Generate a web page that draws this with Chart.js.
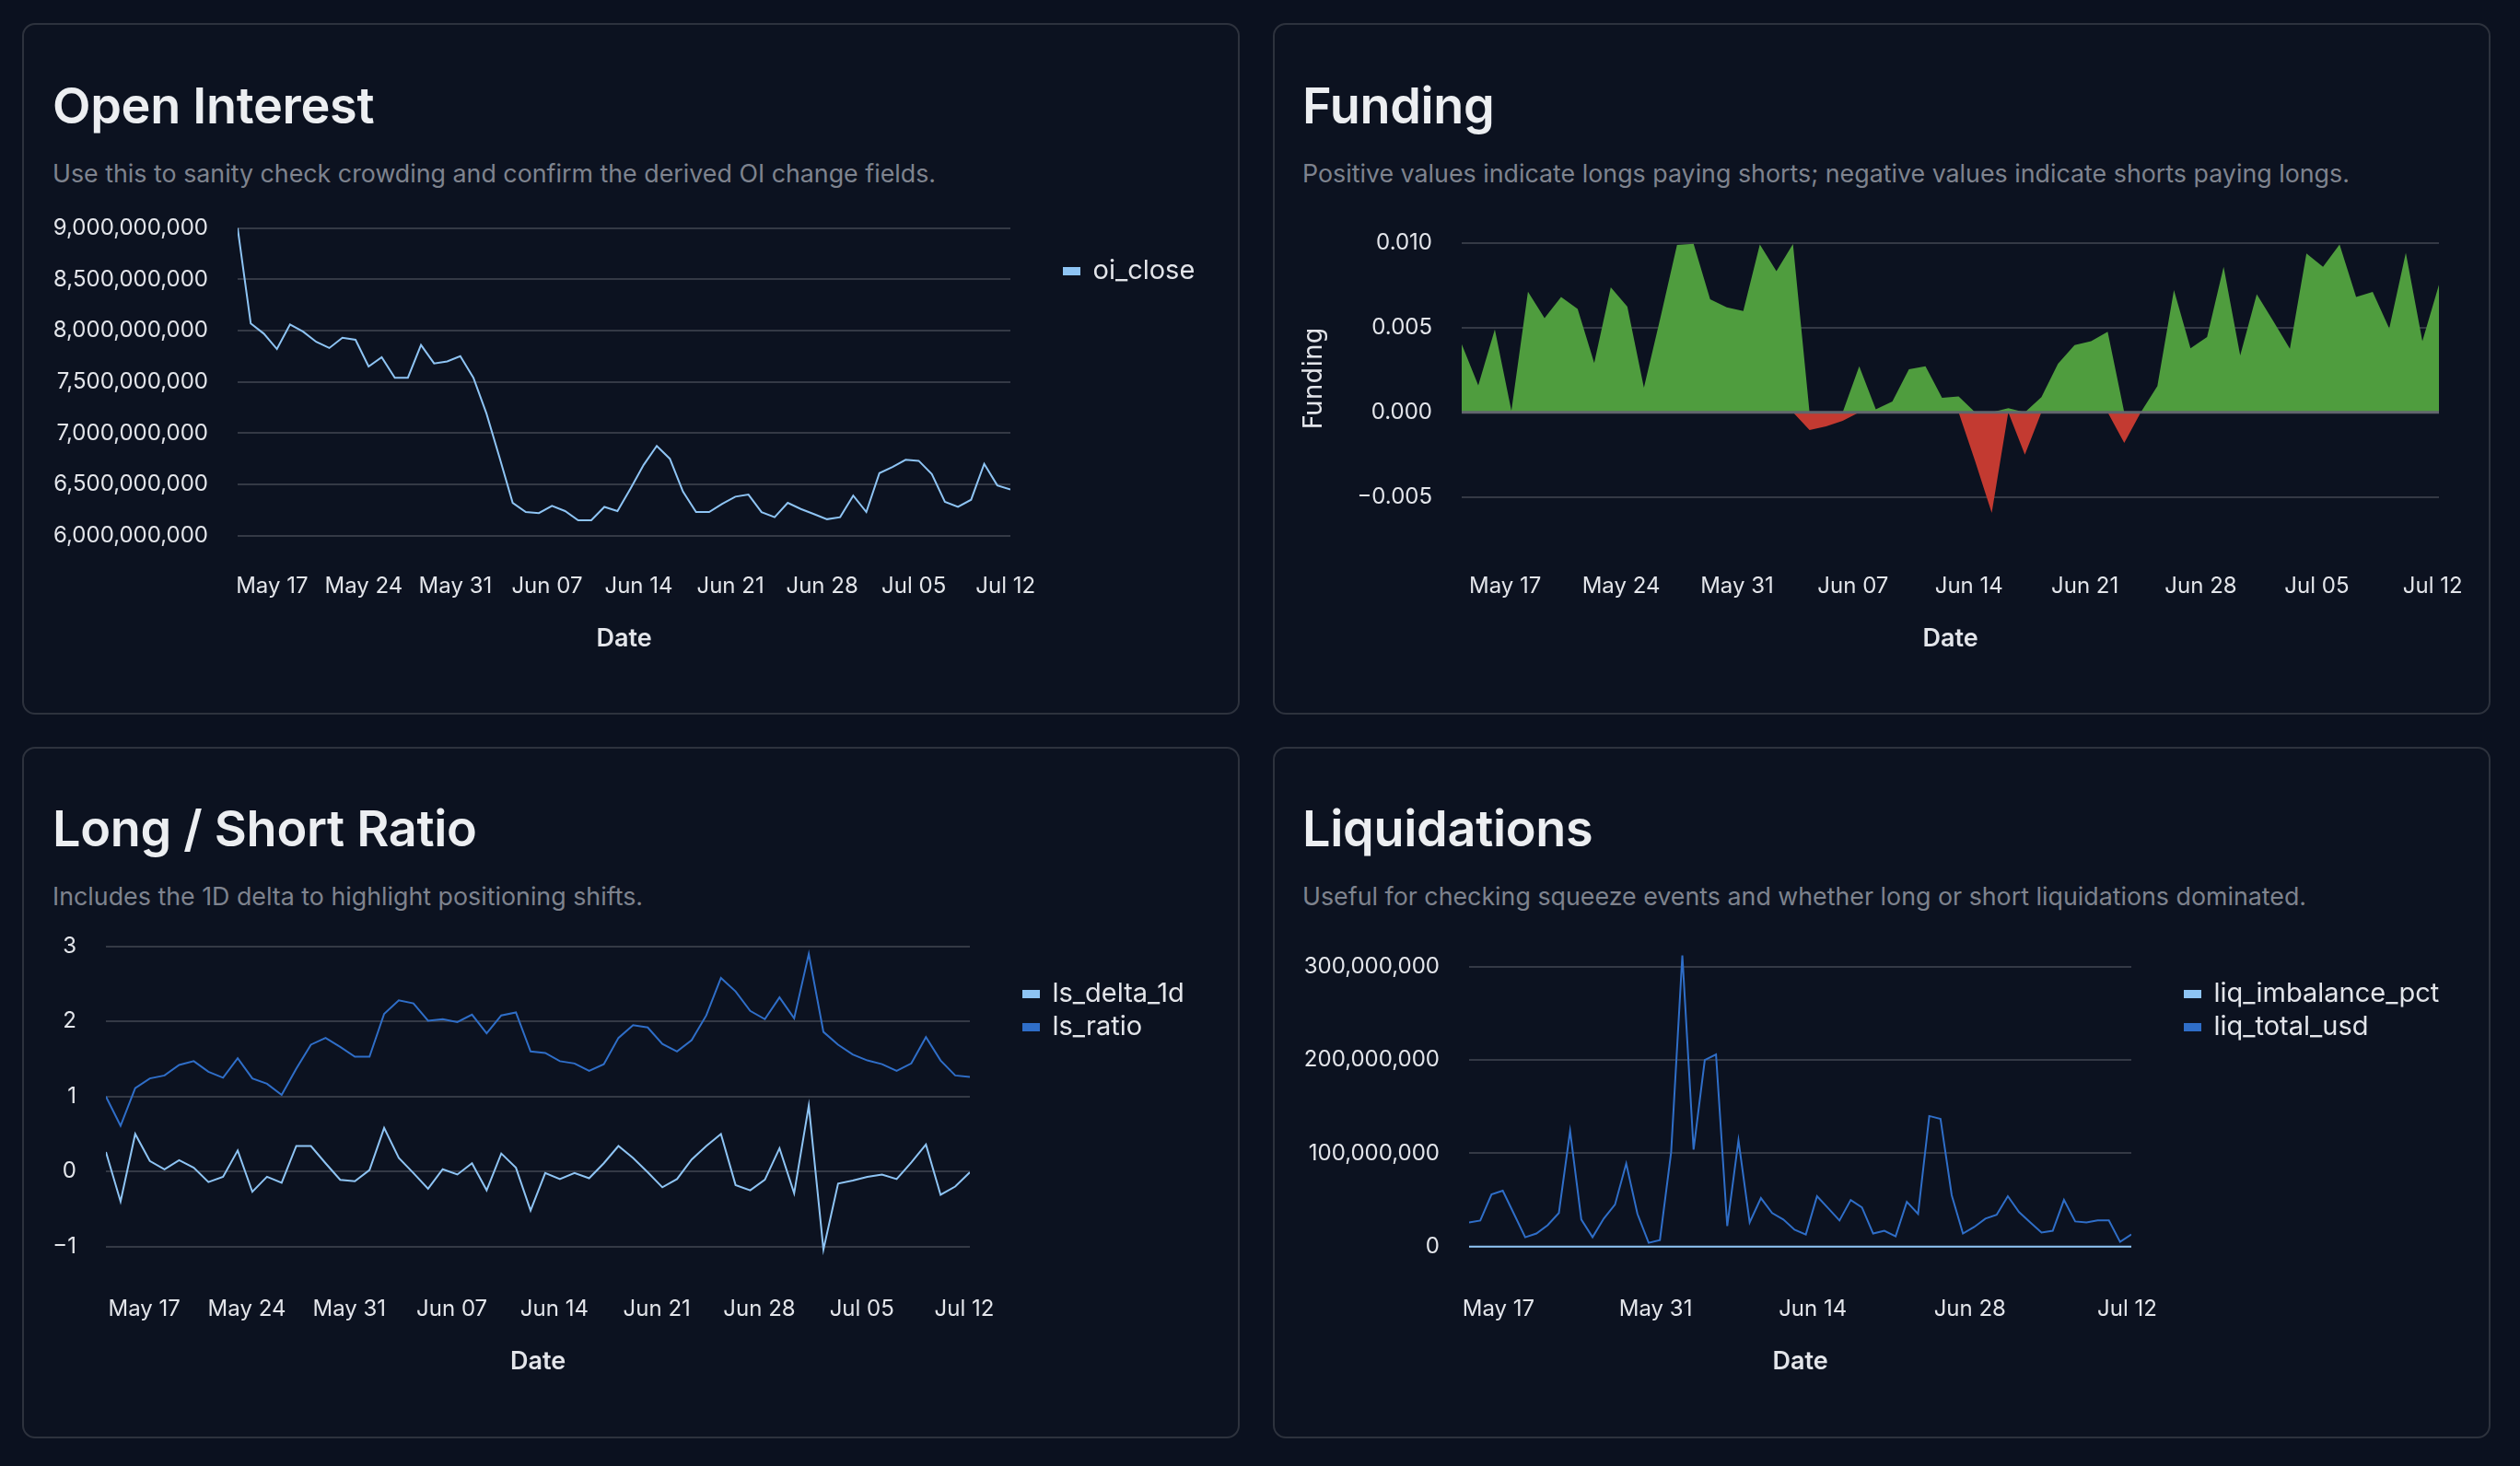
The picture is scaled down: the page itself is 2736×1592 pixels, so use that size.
<!DOCTYPE html>
<html>
<head>
<meta charset="utf-8">
<script src="https://cdn.jsdelivr.net/npm/chart.js@4.4.1/dist/chart.umd.min.js"></script>
<style>
  html, body { margin:0; padding:0; width:2736px; height:1592px; overflow:hidden; background:#0b111f; font-family:Inter, sans-serif; }
  .card { position:absolute; width:1318px; height:747px; border:2px solid #2d323d; border-radius:14px; background:#0c1220; }
  .title { position:absolute; font-family:Inter, sans-serif; font-weight:600; font-size:54px; line-height:54px; color:#eceef1; white-space:nowrap; letter-spacing:-0.3px; }
  .sub { position:absolute; font-family:Inter, sans-serif; font-size:26.8px; line-height:26.8px; color:#7e838e; white-space:nowrap; }
  canvas { position:absolute; }
</style>
</head>
<body>
<div class="card" style="left:24px;top:25px"></div>
<div class="card" style="left:1382px;top:25px"></div>
<div class="card" style="left:24px;top:811px"></div>
<div class="card" style="left:1382px;top:811px"></div>

<div class="title" style="left:57px;top:88px">Open Interest</div>
<div class="sub" style="left:57px;top:175px">Use this to sanity check crowding and confirm the derived OI change fields.</div>
<div class="title" style="left:1414px;top:88px">Funding</div>
<div class="sub" style="left:1414px;top:175px">Positive values indicate longs paying shorts; negative values indicate shorts paying longs.</div>
<div class="title" style="left:57px;top:873px">Long / Short Ratio</div>
<div class="sub" style="left:57px;top:960px">Includes the 1D delta to highlight positioning shifts.</div>
<div class="title" style="left:1414px;top:873px">Liquidations</div>
<div class="sub" style="left:1414px;top:960px">Useful for checking squeeze events and whether long or short liquidations dominated.</div>

<canvas id="oi" width="1300" height="530" style="left:40px;top:180px"></canvas>
<canvas id="fund" width="1328" height="530" style="left:1400px;top:180px"></canvas>
<canvas id="ls" width="1320" height="530" style="left:20px;top:965px"></canvas>
<canvas id="liq" width="1300" height="530" style="left:1400px;top:965px"></canvas>

<script>
// ---------------- data ----------------
const START_DATE = '2026-05-14';   // first daily sample
const SAMPLE_HOUR = 9;             // samples taken at 09:00

const OI_CLOSE = [9.00e9, 8.07e9, 7.97e9, 7.82e9, 8.06e9, 7.99e9, 7.89e9, 7.83e9, 7.93e9, 7.91e9,
                  7.65e9, 7.74e9, 7.54e9, 7.54e9, 7.86e9, 7.68e9, 7.70e9, 7.75e9, 7.54e9, 7.19e9,
                  6.76e9, 6.32e9, 6.23e9, 6.22e9, 6.29e9, 6.24e9, 6.15e9, 6.15e9, 6.28e9, 6.24e9,
                  6.46e9, 6.69e9, 6.875e9, 6.75e9, 6.43e9, 6.23e9, 6.23e9, 6.31e9, 6.38e9, 6.40e9,
                  6.23e9, 6.18e9, 6.32e9, 6.26e9, 6.21e9, 6.16e9, 6.18e9, 6.39e9, 6.23e9, 6.61e9,
                  6.67e9, 6.74e9, 6.73e9, 6.60e9, 6.33e9, 6.28e9, 6.35e9, 6.70e9, 6.49e9, 6.45e9];

const FUNDING = [0.00402, 0.00159, 0.00489, 0.00009, 0.00712, 0.00556, 0.00681, 0.00610, 0.00290, 0.00737,
                 0.00623, 0.00145, 0.00560, 0.00987, 0.00995, 0.00667, 0.00620, 0.00598, 0.00990, 0.00833,
                 0.00993, -0.00105, -0.00083, -0.00051, 0.00272, 0.00018, 0.00063, 0.00254, 0.00272, 0.00085,
                 0.00094, -0.00290, -0.00594, 0.00024, -0.00250, 0.00089, 0.00286, 0.00397, 0.00420, 0.00476,
                 -0.00181, 0.00000, 0.00154, 0.00721, 0.00377, 0.00444, 0.00859, 0.00335, 0.00697, 0.00538,
                 0.00375, 0.00938, 0.00859, 0.00991, 0.00681, 0.00710, 0.00495, 0.00942, 0.00420, 0.00752];

const LS_DELTA_1D = [0.26, -0.40, 0.50, 0.14, 0.03, 0.15, 0.05, -0.14, -0.07, 0.28,
                     -0.27, -0.07, -0.15, 0.34, 0.34, 0.11, -0.11, -0.13, 0.02, 0.58,
                     0.18, -0.02, -0.23, 0.03, -0.04, 0.11, -0.25, 0.24, 0.05, -0.52,
                     -0.02, -0.10, -0.02, -0.09, 0.11, 0.34, 0.18, -0.01, -0.21, -0.10,
                     0.16, 0.34, 0.50, -0.18, -0.25, -0.11, 0.31, -0.29, 0.88, -1.04,
                     -0.16, -0.12, -0.07, -0.04, -0.10, 0.12, 0.36, -0.31, -0.20, -0.01];

const LS_RATIO = [1.00, 0.61, 1.11, 1.24, 1.28, 1.42, 1.47, 1.33, 1.25, 1.51,
                  1.24, 1.17, 1.02, 1.37, 1.69, 1.78, 1.66, 1.53, 1.53, 2.10,
                  2.28, 2.24, 2.01, 2.03, 1.99, 2.09, 1.84, 2.08, 2.12, 1.60,
                  1.58, 1.47, 1.44, 1.34, 1.43, 1.78, 1.95, 1.92, 1.70, 1.60,
                  1.75, 2.08, 2.58, 2.40, 2.14, 2.03, 2.32, 2.04, 2.90, 1.86,
                  1.69, 1.56, 1.48, 1.43, 1.34, 1.44, 1.79, 1.48, 1.28, 1.26];

const LIQ_IMBALANCE_PCT = [0, 0, 0, 0, 0, 0, 0, 0, 0, 0,
                           0, 0, 0, 0, 0, 0, 0, 0, 0, 0,
                           0, 0, 0, 0, 0, 0, 0, 0, 0, 0,
                           0, 0, 0, 0, 0, 0, 0, 0, 0, 0,
                           0, 0, 0, 0, 0, 0, 0, 0, 0, 0,
                           0, 0, 0, 0, 0, 0, 0, 0, 0, 0];

const LIQ_TOTAL_USD = [26e6, 28e6, 56e6, 60e6, 35e6, 10e6, 14e6, 23e6, 36e6, 124e6,
                       29e6, 10e6, 30e6, 45e6, 89e6, 35e6, 4e6, 7e6, 101e6, 312e6,
                       104e6, 200e6, 206e6, 22e6, 114e6, 26e6, 52e6, 36e6, 29e6, 18e6,
                       13e6, 54e6, 41e6, 28e6, 50e6, 42e6, 14e6, 17e6, 11e6, 48e6,
                       35e6, 140e6, 137e6, 55e6, 14e6, 21e6, 30e6, 34e6, 54e6, 37e6,
                       26e6, 15e6, 17e6, 50e6, 27e6, 26e6, 28e6, 28e6, 5e6, 13e6];

const WEEKLY_TICKS = ['2026-05-17', '2026-05-24', '2026-05-31', '2026-06-07', '2026-06-14',
                      '2026-06-21', '2026-06-28', '2026-07-05', '2026-07-12'];
const BIWEEKLY_TICKS = ['2026-05-17', '2026-05-31', '2026-06-14', '2026-06-28', '2026-07-12'];

const OI_Y_TICKS = [6.0e9, 6.5e9, 7.0e9, 7.5e9, 8.0e9, 8.5e9, 9.0e9];
const FUNDING_Y_TICKS = [-0.005, 0, 0.005, 0.010];
const LS_Y_TICKS = [-1, 0, 1, 2, 3];
const LIQ_Y_TICKS = [0, 1e8, 2e8, 3e8];

// ---------------- helpers ----------------
const TICK = '#e3e5ea';
const GRID = '#343945';
const LIGHT = '#8ec4f4';
const DARK = '#2f6ec8';
const GREEN = '#4f9d3e';
const RED = '#c33a31';
const MONTHS = ['Jan','Feb','Mar','Apr','May','Jun','Jul','Aug','Sep','Oct','Nov','Dec'];
const DAY = 864e5;
const dayOf = s => Date.parse(s + 'T00:00:00Z') / DAY;
const t0 = dayOf(START_DATE);
const X = OI_CLOSE.map((_, i) => t0 + i + SAMPLE_HOUR / 24);
const pts = arr => arr.map((y, i) => ({ x: X[i], y }));
const fmtDate = d => { const dt = new Date(Math.round(d) * DAY); return MONTHS[dt.getUTCMonth()] + ' ' + String(dt.getUTCDate()).padStart(2, '0'); };
const minus = v => (v < 0 ? '\u2212' : '');
const fmtInt = v => minus(v) + Math.abs(v).toLocaleString('en-US');

Chart.defaults.font.family = 'Inter';

const legendOffset = {
  id: 'legendOffset',
  beforeLayout(chart, args, o) {
    const lg = chart.legend;
    if (!lg || !o.width || lg._wrapped) return;
    const fit = lg.fit.bind(lg);
    lg.fit = function () { fit(); this.width = o.width; };
    lg._wrapped = true;
  },
  afterLayout(chart, args, o) {
    const lg = chart.legend;
    if (!lg || !o.width) return;
    lg.left += o.dx; lg.right += o.dx; lg.top += o.dy; lg.bottom += o.dy;
  }
};

const zeroLine = {
  id: 'zeroLine',
  afterDatasetsDraw(chart, args, o) {
    if (!o.color) return;
    const { ctx, chartArea: a, scales: { y } } = chart;
    const py = y.getPixelForValue(0);
    ctx.save();
    ctx.strokeStyle = o.color; ctx.lineWidth = o.width;
    ctx.beginPath(); ctx.moveTo(a.left, py); ctx.lineTo(a.right, py); ctx.stroke();
    ctx.restore();
  }
};

function makeChart(id, c) {
  return new Chart(document.getElementById(id), {
    type: 'line',
    data: { datasets: c.datasets },
    options: {
      responsive: false, animation: false, devicePixelRatio: 1,
      layout: { padding: { top: 60, right: c.padR || 0, left: 0, bottom: 0 } },
      elements: { point: { radius: 0 }, line: { tension: 0 } },
      scales: {
        x: {
          type: 'linear', min: X[0], max: X[X.length - 1],
          grid: { display: false, drawTicks: false }, border: { display: false },
          afterBuildTicks: s => { s.ticks = c.xTicks.map(d => ({ value: dayOf(d) })); },
          ticks: { autoSkip: false, maxRotation: 0, padding: 40, color: TICK, font: { size: 24 }, callback: v => fmtDate(v) },
          title: { display: true, text: 'Date', color: TICK, font: { size: 27, weight: '600' }, padding: 0 },
          afterFit: s => { s.height = 128; }
        },
        y: {
          min: c.yMin, max: c.yMax,
          grid: { color: GRID, lineWidth: 2, drawTicks: false }, border: { display: false },
          afterBuildTicks: s => { s.ticks = c.yTicks.map(v => ({ value: v })); },
          ticks: { padding: 32, color: TICK, font: { size: 24 }, callback: c.yFmt },
          title: c.yTitle ? { display: true, text: c.yTitle, color: TICK, font: { family: 'DejaVu Sans', size: 28 }, padding: { top: 11, bottom: 0 } } : { display: false },
          afterFit: s => { s.width = c.yAxisW; }
        }
      },
      plugins: {
        tooltip: { enabled: false },
        legend: c.legendW ? {
          position: 'right', align: 'start',
          labels: { boxWidth: 17, boxHeight: 7, padding: 7, color: TICK, font: { size: 29 } }
        } : { display: false },
        legendOffset: { width: c.legendW || 0, dx: 51, dy: 33 },
        zeroLine: c.zero || {}
      }
    },
    plugins: [legendOffset, zeroLine]
  });
}

const lineDs = (label, arr, color) => ({ label, data: pts(arr), borderColor: color, backgroundColor: color, borderWidth: 2, fill: false, pointRadius: 0 });

makeChart('oi', {
  datasets: [lineDs('oi_close', OI_CLOSE, LIGHT)],
  yMin: 5.997e9, yMax: 9.069e9, yTicks: OI_Y_TICKS, yFmt: v => fmtInt(v),
  xTicks: WEEKLY_TICKS, yAxisW: 218, legendW: 243
});

makeChart('fund', {
  datasets: [
    { label: 'positive', data: pts(FUNDING.map(v => Math.max(v, 0))), fill: 'origin', backgroundColor: GREEN, borderColor: 'transparent', borderWidth: 0, pointRadius: 0 },
    { label: 'negative', data: pts(FUNDING.map(v => Math.min(v, 0))), fill: 'origin', backgroundColor: RED, borderColor: 'transparent', borderWidth: 0, pointRadius: 0 }
  ],
  yMin: -0.0073, yMax: 0.01129, yTicks: FUNDING_Y_TICKS, yFmt: v => minus(v) + Math.abs(v).toFixed(3),
  xTicks: WEEKLY_TICKS, yAxisW: 187, padR: 80, yTitle: 'Funding',
  zero: { color: '#62656e', width: 3 }
});

makeChart('ls', {
  datasets: [lineDs('ls_delta_1d', LS_DELTA_1D, LIGHT), lineDs('ls_ratio', LS_RATIO, DARK)],
  yMin: -1.163, yMax: 3.033, yTicks: LS_Y_TICKS, yFmt: v => minus(v) + Math.abs(v),
  xTicks: WEEKLY_TICKS, yAxisW: 95, legendW: 287
});

makeChart('liq', {
  datasets: [lineDs('liq_imbalance_pct', LIQ_IMBALANCE_PCT, LIGHT), lineDs('liq_total_usd', LIQ_TOTAL_USD, DARK)],
  yMin: -13.1e6, yMax: 324.5e6, yTicks: LIQ_Y_TICKS, yFmt: v => fmtInt(v),
  xTicks: BIWEEKLY_TICKS, yAxisW: 195, legendW: 386
});
</script>
</body>
</html>
